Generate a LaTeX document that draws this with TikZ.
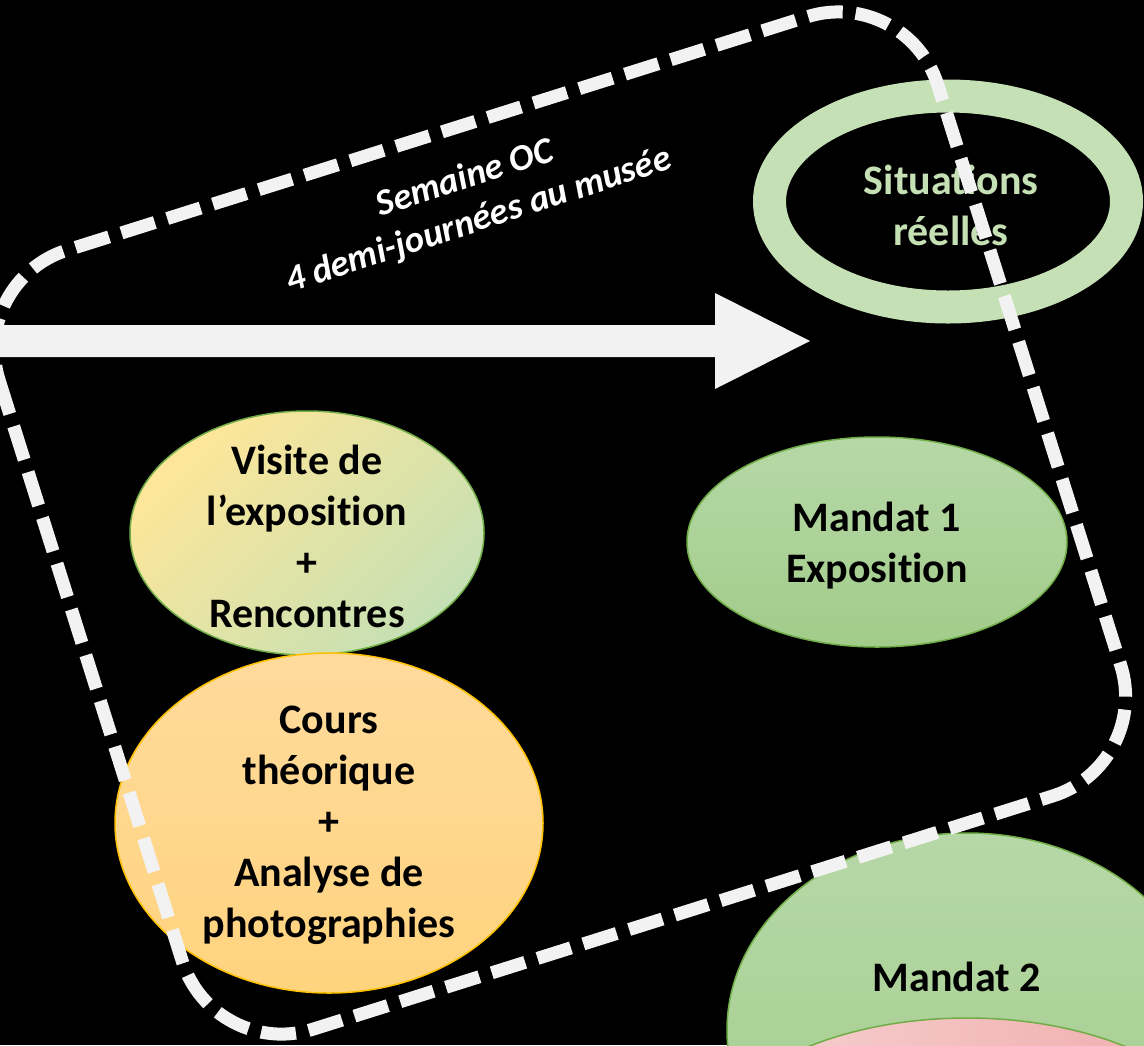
\documentclass[tikz,border=0pt]{standalone}
\usepackage{fontspec}
\setmainfont{Carlito}[Ligatures=TeX,RawFeature={-liga;-clig;-calt;-dlig}]
\usetikzlibrary{shapes.geometric}
\definecolor{greenline}{HTML}{70AD47}
\definecolor{orangeline}{HTML}{FFC000}
\definecolor{visiteyellow}{HTML}{FFE699}
\definecolor{visitegreen}{HTML}{C5E0B4}
\definecolor{courstop}{HTML}{FFDA9C}
\definecolor{coursbottom}{HTML}{FFD47E}
\definecolor{mandattop}{HTML}{B6D8A7}
\definecolor{mandatbottom}{HTML}{A2CC8A}
\definecolor{pinkleft}{HTML}{F8D3D3}
\definecolor{pinkright}{HTML}{EFA9A9}
\definecolor{ringgreen}{HTML}{C5E0B4}
\definecolor{offwhite}{HTML}{F2F2F2}

\begin{document}
\begin{tikzpicture}[x=0.5pt,y=-0.5pt,
    bubble/.style={ellipse,inner sep=0pt,line width=0.75pt},
    words/.style={align=center,text=black,font=\fontsize{21pt}{25.5pt}\selectfont\bfseries},
    frame/.style={draw=offwhite,line width=6.5pt,dash pattern=on 17.5pt off 6.5pt,rounded corners=52pt}]
    \useasboundingbox (0,0) rectangle (1144,1045);
    \fill[black] (0,0) rectangle (1144,1045);
    \clip (0,0) rectangle (1144,1045);

    \node[bubble,draw=greenline,left color=visiteyellow,right color=visitegreen,shading angle=45,
          minimum width=177pt,minimum height=122pt] (visite) at (307,533) {};
    \node[bubble,draw=orangeline,top color=courstop,bottom color=coursbottom,
          minimum width=214pt,minimum height=170pt] (cours) at (329,823) {};
    \node[bubble,draw=greenline,top color=mandattop,bottom color=mandatbottom,
          minimum width=190pt,minimum height=105pt] (mandat1) at (877,542) {};
    \node[bubble,draw=greenline,top color=mandattop,bottom color=mandatbottom,
          minimum width=240pt,minimum height=197pt] (mandat2) at (967,1030) {};
    \node[bubble,draw=greenline,left color=pinkleft,right color=pinkright,
          minimum width=270pt,minimum height=150pt] (pink) at (967,1168) {};
    \node[bubble,draw=ringgreen,line width=16.5pt,
          minimum width=178.5pt,minimum height=105.5pt] (reel) at (948,201.5) {};

    \node[words] (visitetext) at (307,536) {Visite de\\l’exposition\\+\\Rencontres};
    \node[words] (courstext) at (329,825) {Cours\\théorique\\+\\Analyse de\\photographies};
    \node[words] (mandat1text) at (877,546) {Mandat 1\\Exposition};
    \node[words] (mandat2text) at (957,977) {Mandat 2};
    \node[words,text=ringgreen] (reeltext) at (951,205) {Situations\\réelles};
    \node[align=center,text=white,rotate=18,font=\fontsize{18.5pt}{22pt}\selectfont\bfseries\itshape]
          (semaine) at (472,200) {Semaine OC\\4 demi-journées au musée};

    \fill[offwhite] (-10,325) -- (715,325) -- (715,293) -- (810,341)
          -- (715,389) -- (715,357) -- (-10,357) -- cycle;

    \draw[frame,rotate around={17.5:(560,523)}] (68,114.5) rectangle (1052,931.5);
\end{tikzpicture}
\end{document}
